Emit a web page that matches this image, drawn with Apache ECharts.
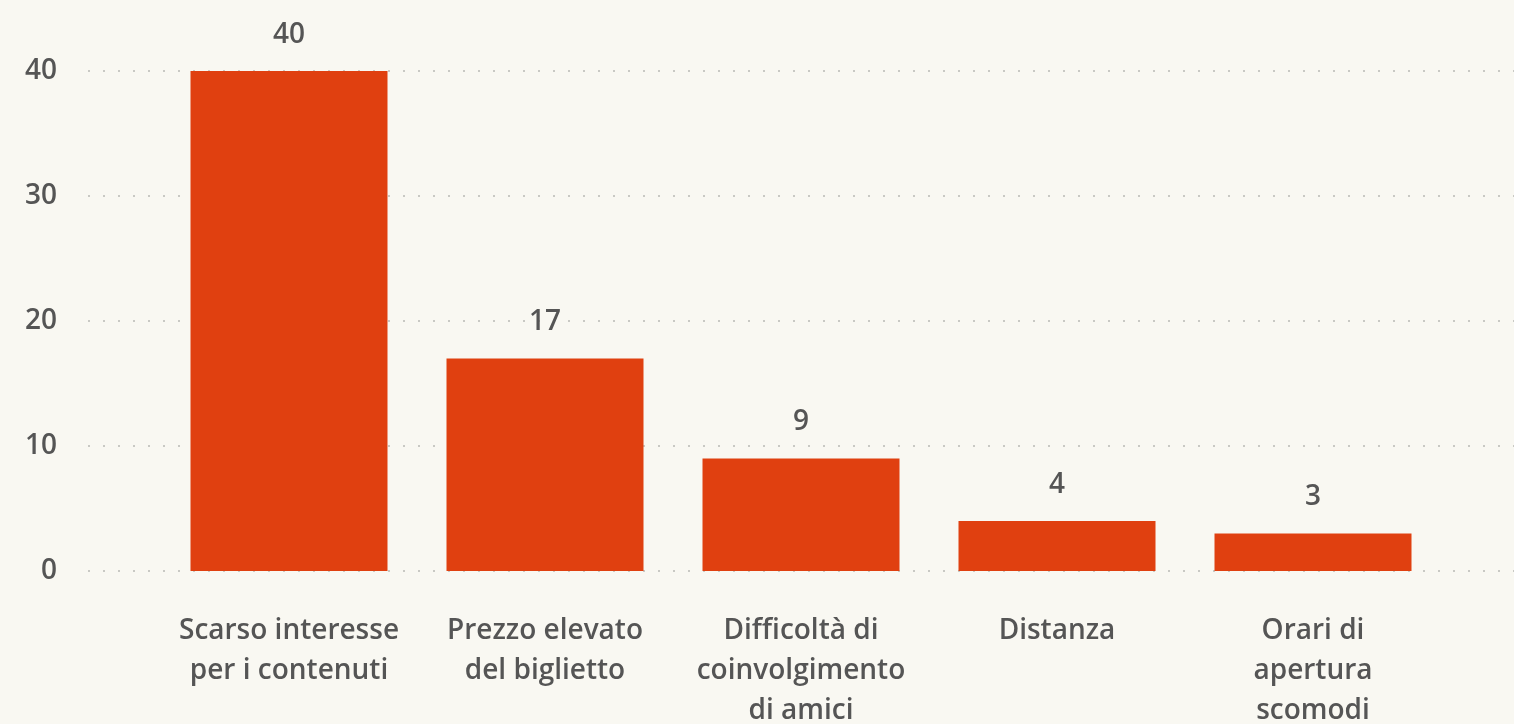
<!DOCTYPE html>
<html>
<head>
<meta charset="utf-8">
<script src="https://cdn.jsdelivr.net/npm/echarts@6/dist/echarts.min.js"></script>
<style>
  html, body { margin: 0; padding: 0; background: #f9f8f2; }
  #chart { width: 1514px; height: 724px; }
</style>
</head>
<body>
<div id="chart"></div>
<script>
  // dati
  var categories = [
    'Scarso interesse\nper i contenuti',
    'Prezzo elevato\ndel biglietto',
    'Difficoltà di\ncoinvolgimento\ndi amici',
    'Distanza',
    'Orari di\napertura\nscomodi'
  ]
  var values = [40, 17, 9, 4, 3]
  var yTicks = [0, 10, 20, 30, 40]

  var textColor = '#555555'
  var fontFamily = '"Open Sans", "Noto Sans", sans-serif'

  var chart = echarts.init(document.getElementById('chart'))
  chart.setOption({
    backgroundColor: '#f9f8f2',
    animation: false,
    grid: [
      // griglia larga solo per le linee tratteggiate e le etichette y
      { left: 88, right: 0, top: 71, bottom: 153, outerBoundsMode: 'none' },
      // griglia delle barre
      { left: 161, right: 73, top: 71, bottom: 153, outerBoundsMode: 'none' }
    ],
    xAxis: [
      { type: 'category', gridIndex: 0, data: categories, show: false },
      {
        type: 'category',
        gridIndex: 1,
        data: categories,
        axisLine: { show: false },
        axisTick: { show: false },
        axisLabel: {
          color: textColor,
          fontFamily: fontFamily,
          fontWeight: 600,
          fontSize: 28,
          lineHeight: 40,
          margin: 40,
          interval: 0
        }
      }
    ],
    yAxis: [
      {
        type: 'value',
        gridIndex: 0,
        min: yTicks[0],
        max: yTicks[yTicks.length - 1],
        interval: 10,
        axisLine: { show: false },
        axisTick: { show: false },
        axisLabel: {
          color: textColor,
          fontFamily: fontFamily,
          fontWeight: 600,
          fontSize: 28,
          margin: 31
        },
        splitLine: {
          lineStyle: { color: '#c9c9c4', width: 2, type: [2, 13] }
        }
      },
      {
        type: 'value',
        gridIndex: 1,
        min: yTicks[0],
        max: yTicks[yTicks.length - 1],
        interval: 10,
        show: false,
        splitLine: { show: false }
      }
    ],
    series: [
      {
        type: 'bar',
        xAxisIndex: 1,
        yAxisIndex: 1,
        data: values,
        barWidth: 197,
        itemStyle: { color: '#e04010' },
        label: {
          show: true,
          position: 'top',
          distance: 22,
          color: textColor,
          fontFamily: fontFamily,
          fontWeight: 600,
          fontSize: 28
        }
      }
    ]
  })
</script>
</body>
</html>
